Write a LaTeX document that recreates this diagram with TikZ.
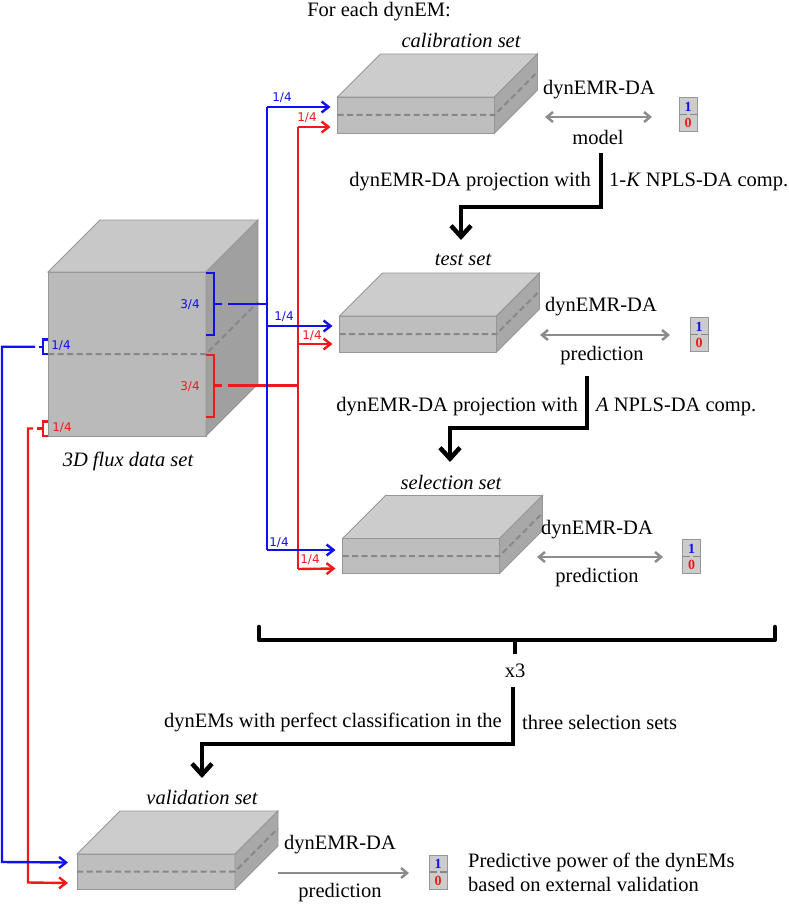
\documentclass[tikz,border=0pt]{standalone}
\usepackage{fontspec}
\setmainfont{Liberation Serif}
\newfontfamily\fracfont{DejaVu Sans}
\usetikzlibrary{arrows.meta,calc}
\definecolor{myblue}{RGB}{15,15,240}
\definecolor{myred}{RGB}{240,25,25}
\definecolor{frontc}{RGB}{190,190,190}
\definecolor{topc}{RGB}{204,204,204}
\definecolor{sidec}{RGB}{168,168,168}
\definecolor{edgec}{RGB}{150,150,150}
\definecolor{dashc}{RGB}{135,135,135}
\definecolor{garr}{RGB}{140,140,140}
\newcommand{\mkslab}[7]{% name, cx, cy, w, h, d, label
  \node[slabfront, minimum width=#4pt, minimum height=#5pt] (#1) at (#2,#3) {};
  \filldraw[fill=topc, draw=edgec, line width=0.8pt] (#1.north west) -- ++(#6,-#6) -- ++(#4,0) -- (#1.north east) -- cycle;
  \filldraw[fill=sidec, draw=edgec, line width=0.8pt] (#1.north east) -- ++(#6,-#6) -- ++(0,#5) -- (#1.south east) -- cycle;
  \draw[dashline] (#1.west) -- (#1.east) -- ++(#6,-#6);
}
\newcommand{\onezero}[3]{% name, cx, cy
  \node[ozbox] (#1) at (#2,#3) {};
  \draw[dashc, line width=1.5pt, dash pattern=on 7pt off 3pt] ($(#1.west)+(0.5,0)$) -- ($(#1.east)+(-0.5,0)$);
  \node[ozdigit, text=myblue] (#1-one) at ($(#1.center)+(0,-8)$) {1};
  \node[ozdigit, text=myred] (#1-zero) at ($(#1.center)+(0,8.5)$) {0};
}
\begin{document}
\begin{tikzpicture}[x=1pt,y=-1pt,
  txt/.style={font=\fontsize{20.5}{24}\selectfont, inner sep=0pt},
  itxt/.style={font=\fontsize{20.5}{24}\selectfont\itshape, inner sep=0pt},
  frac/.style={font=\fracfont\fontsize{12}{14}\selectfont, inner sep=0pt},
  slabfront/.style={rectangle, fill=frontc, draw=edgec, line width=0.8pt, inner sep=0pt, outer sep=0pt},
  dashline/.style={dashc, line width=2pt, dash pattern=on 6pt off 3.5pt},
  ozbox/.style={rectangle, fill=topc, draw=edgec, line width=1pt, minimum width=18pt, minimum height=34pt, inner sep=0pt, outer sep=0pt},
  ozdigit/.style={font=\fontsize{14}{15}\selectfont\bfseries, inner sep=0pt},
  bl/.style={myblue, line width=2.4pt},
  rd/.style={myred, line width=2.4pt},
  cola/.style={-{Straight Barb[length=7pt,width=11pt]}},
  blk/.style={black, line width=4.5pt},
  blka/.style={-{Straight Barb[length=11pt,width=20pt]}},
  ga/.style={garr, line width=2.5pt}
]
\useasboundingbox (0,0) rectangle (788,904);

% ---------- big cube ----------
\node[slabfront, fill={rgb,255:red,186;green,186;blue,186}, minimum width=158pt, minimum height=164pt] (cube) at (127,354) {};
\filldraw[fill={rgb,255:red,200;green,200;blue,200}, draw=edgec, line width=0.8pt] (cube.north west) -- ++(52,-52) -- ++(158,0) -- (cube.north east) -- cycle;
\filldraw[fill={rgb,255:red,160;green,160;blue,160}, draw=edgec, line width=0.8pt] (cube.north east) -- ++(52,-52) -- ++(0,164) -- (cube.south east) -- cycle;
\draw[dashline] (cube.west) -- (cube.east) -- ++(52,-52);
\node[itxt] (cubelab) at (128,461) {3D flux data set};

% ---------- slabs ----------
\mkslab{cal}{416}{115}{157}{36}{43}{}
\mkslab{test}{418}{334}{157}{36}{43}{}
\mkslab{sel}{421}{556}{157}{35}{43}{}
\mkslab{val}{156}{871.5}{158}{35}{43}{}

\node[txt] (title) at (379,12) {For each dynEM:};
\node[itxt] (callab) at (461,40) {calibration set};
\node[itxt] (testlab) at (463,260) {test set};
\node[itxt] (sellab) at (451,482) {selection set};
\node[itxt] (vallab) at (202,797) {validation set};

% ---------- right side texts & boxes ----------
\node[txt] (calda) at (599,90) {dynEMR-DA};
\node[txt] (calmod) at (598,137) {model};
\onezero{calbox}{688}{114.5}
\coordinate (calga) at (545,117);
\coordinate (calgb) at (652,117);
\draw[ga,{Straight Barb[length=6pt,width=10pt]}-{Straight Barb[length=6pt,width=10pt]}] (calga) -- (calgb);

\node[txt] (testda) at (601,307) {dynEMR-DA};
\node[txt] (testpr) at (602,356) {prediction};
\onezero{testbox}{699}{334.5}
\coordinate (testga) at (540,335);
\coordinate (testgb) at (670,335);
\draw[ga,{Straight Barb[length=6pt,width=10pt]}-{Straight Barb[length=6pt,width=10pt]}] (testga) -- (testgb);

\node[txt] (selda) at (597,530) {dynEMR-DA};
\node[txt] (selpr) at (597,578) {prediction};
\onezero{selbox}{691.5}{556.5}
\coordinate (selga) at (537,557);
\coordinate (selgb) at (663,557);
\draw[ga,{Straight Barb[length=6pt,width=10pt]}-{Straight Barb[length=6pt,width=10pt]}] (selga) -- (selgb);

\node[txt] (valda) at (340,845) {dynEMR-DA};
\node[txt] (valpr) at (340,893) {prediction};
\onezero{valbox}{438}{872}
\coordinate (valga) at (278,873);
\coordinate (valgb) at (409,873);
\draw[ga,-{Straight Barb[length=6pt,width=10pt]}] (valga) -- (valgb);
\node[txt, anchor=west, align=left] (predtxt) at (468,872) {Predictive power of the dynEMs\\based on external validation};

% ---------- black arrows ----------
\coordinate (k1a) at (601,153);
\coordinate (k1b) at (601,207);
\coordinate (k1c) at (461,207);
\coordinate (k1d) at (461,240);
\draw[blk,blka] (k1a) -- (k1b) -- (k1c) -- (k1d);
\node[txt, anchor=east] (p1l) at (591,182) {dynEMR-DA projection with};
\node[txt, anchor=west] (p1r) at (609,182) {1-\textit{K} NPLS-DA comp.};

\coordinate (k2a) at (587,376);
\coordinate (k2b) at (587,428);
\coordinate (k2c) at (450,428);
\coordinate (k2d) at (450,462);
\draw[blk,blka] (k2a) -- (k2b) -- (k2c) -- (k2d);
\node[txt, anchor=east] (p2l) at (578,407) {dynEMR-DA projection with};
\node[txt, anchor=west] (p2r) at (596,407) {\textit{A} NPLS-DA comp.};

% brace
\coordinate (brl) at (259,627);
\coordinate (brr) at (775,627);
\coordinate (brm) at (515,640);
\coordinate (brt) at (515,654);
\draw[blk, line cap=round, line join=round] (brl) -- (259,640) -- (775,640) -- (brr);
\draw[blk] (brm) -- (brt);
\node[txt] (x3) at (515,671) {x3};

\coordinate (k3a) at (513,687);
\coordinate (k3b) at (513,744);
\coordinate (k3c) at (202,744);
\coordinate (k3d) at (202,778);
\draw[blk,blka] (k3a) -- (k3b) -- (k3c) -- (k3d);
\node[txt, anchor=east] (p3l) at (502,722) {dynEMs with perfect classification in the};
\node[txt, anchor=west] (p3r) at (522,722) {three selection sets};

% ---------- red routing (drawn first) ----------
\draw[rd] (206,355) -- (214,355) -- (214,417) -- (206,417);
\draw[rd] (214,385.5) -- (222,385.5);
\coordinate (rs) at (228,385.5);
\coordinate (rv) at (298,385.5);
\draw[rd] (rs) -- (rv);
\draw[rd] (298,127) -- (298,569);
\draw[rd,cola] (298,127) -- ($(cal.north west)+(-7,30)$);
\draw[rd,cola] (298,344) -- ($(test.north west)+(-7,28)$);
\draw[rd,cola] (298,569) -- ($(sel.north west)+(-7,30)$);
\node[frac, text=myred] (r1) at (307,118) {1/4};
\node[frac, text=myred] (r2) at (312,336) {1/4};
\node[frac, text=myred] (r3) at (310,560) {1/4};
\node[frac, text=myred] (r34) at (190,387) {3/4};
% left red
\draw[rd] (48,421.5) -- (42.7,421.5) -- (42.7,436) -- (48,436);
\draw[rd] (42.7,428.5) -- (37,428.5);
\coordinate (rl) at (33,428.5);
\draw[rd,cola] (rl) -- (28,428.5) -- (28,882.5) -- ($(val.north west)+(-9,29)$);
\node[frac, text=myred] (rl14) at (62,428) {1/4};

% ---------- blue routing ----------
\draw[bl] (206,273) -- (214,273) -- (214,335) -- (206,335);
\draw[bl] (214,304) -- (222,304);
\coordinate (bs) at (228,304);
\coordinate (bv) at (267,304);
\draw[bl] (bs) -- (bv);
\draw[bl] (267,107) -- (267,550);
\draw[bl,cola] (267,107) -- ($(cal.north west)+(-7,10)$);
\draw[bl,cola] (267,326) -- ($(test.north west)+(-7,10)$);
\draw[bl,cola] (267,550) -- ($(sel.north west)+(-7,11.5)$);
\node[frac, text=myblue] (b1) at (282,98) {1/4};
\node[frac, text=myblue] (b2) at (284,317) {1/4};
\node[frac, text=myblue] (b3) at (279,543) {1/4};
\node[frac, text=myblue] (b34) at (190,305) {3/4};
% left blue
\draw[bl] (48,339.5) -- (42.7,339.5) -- (42.7,354) -- (48,354);
\draw[bl] (42.7,346.7) -- (39,346.7);
\coordinate (bl0) at (35,346.7);
\draw[bl,cola] (bl0) -- (2,346.7) -- (2,862) -- ($(val.north west)+(-9,8.5)$);
\node[frac, text=myblue] (bl14) at (61,346) {1/4};
\end{tikzpicture}
\end{document}
